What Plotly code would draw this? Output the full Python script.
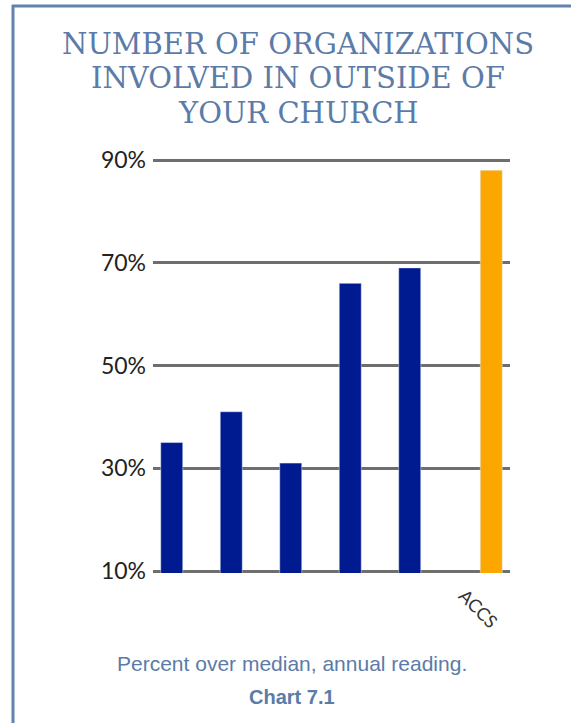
import plotly.graph_objects as go

# chart data
categories = [0, 1, 2, 3, 4, 5]
tick_labels = ["", "", "", "", "", "ACCS"]
others = [35, 41, 31, 66, 69, None]
accs = [None, None, None, None, None, 88]
y_ticks = [10, 30, 50, 70, 90]
y_tick_text = ["10%", "30%", "50%", "70%", "90%"]

title_lines = ["NUMBER OF ORGANIZATIONS", "INVOLVED IN OUTSIDE OF", "YOUR CHURCH"]
caption = "Percent over median, annual reading."
chart_no = "Chart 7.1"

W, H = 571, 723
L, R, T, B = 153, 510, 158, 573   # plot area in pixels
unit = (571 - 160) / 80.0          # pixels per percent point
y_lo = 10 - (B - 571) / unit
y_hi = 90 + (160 - T) / unit


def px(x):
    return (x - L) / (R - L)


def py(y):
    return (B - y) / (B - T)


fig = go.Figure()

fig.add_trace(go.Bar(x=categories, y=others, marker_color="#001a90",
                     showlegend=False))
fig.add_trace(go.Bar(x=categories, y=accs, marker_color="#fca600",
                     showlegend=False))

blue = "#5b7ba8"
annotations = []
for i, line in enumerate(title_lines):
    annotations.append(dict(
        text=line, x=px(298), y=py(44 + i * 34.5), xref="paper", yref="paper",
        showarrow=False, xanchor="center", yanchor="middle",
        font=dict(family="DejaVu Serif", size=29, color=blue)))

annotations.append(dict(
    text=caption, x=px(292), y=py(663), xref="paper", yref="paper",
    showarrow=False, xanchor="center", yanchor="middle",
    font=dict(family="Liberation Sans", size=21, color=blue)))
annotations.append(dict(
    text="<b>" + chart_no + "</b>", x=px(292), y=py(697), xref="paper", yref="paper",
    showarrow=False, xanchor="center", yanchor="middle",
    font=dict(family="Liberation Sans", size=20, color=blue)))

# rotated category label
for c, lab in zip(categories, tick_labels):
    if lab:
        annotations.append(dict(
            text=lab, x=c, y=py(608), xref="x", yref="paper", showarrow=False,
            textangle=45, xshift=-2, xanchor="center", yanchor="middle",
            font=dict(family="Lato", size=18, color="#333333")))

border = "#6382ae"
shapes = [
    dict(type="line", xref="paper", yref="paper", x0=px(12), x1=px(571),
         y0=py(6), y1=py(6), line=dict(color=border, width=3)),
    dict(type="line", xref="paper", yref="paper", x0=px(13), x1=px(13),
         y0=py(5), y1=py(723), line=dict(color=border, width=3)),
]

fig.update_layout(
    width=W, height=H,
    margin=dict(l=L, r=W - R, t=T, b=H - B),
    paper_bgcolor="white", plot_bgcolor="white",
    barmode="group", bargap=0.26, bargroupgap=0,
    annotations=annotations, shapes=shapes,
    xaxis=dict(range=[-0.5, 5.5], tickvals=categories, ticktext=tick_labels,
               showticklabels=False, showgrid=False, zeroline=False, showline=False),
    yaxis=dict(range=[y_lo, y_hi], tickmode="array", tickvals=y_ticks,
               ticktext=y_tick_text,
               showgrid=True, gridcolor="#6e6e6e", gridwidth=2.5,
               zeroline=False, showline=False, ticks="", ticklabelstandoff=6,
               tickfont=dict(family="Lato", size=23, color="#222222")),
)

fig.write_html("out.html", config={"displayModeBar": False},
               post_script="document.body.style.margin='0';")
